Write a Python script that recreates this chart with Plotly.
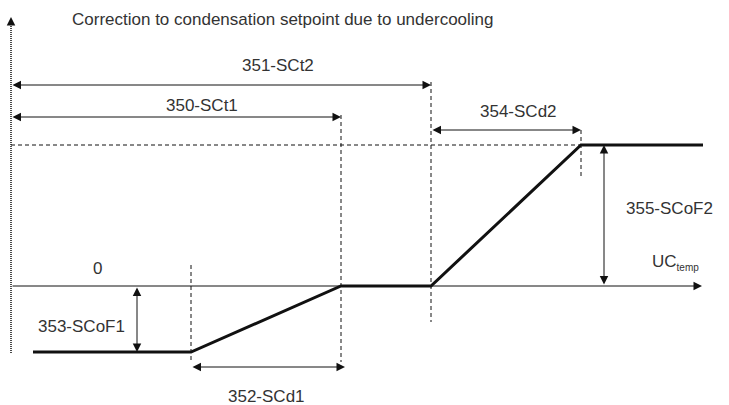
import plotly.graph_objects as go

# parameters (x: undercooling temp, y: setpoint correction)
SCT1 = 33.0
SCT2 = 42.0
SCD1 = 15.0
SCD2 = 15.0
SCOF1 = -6.6
SCOF2 = 14.1

curve_x = [2.2, SCT1 - SCD1, SCT1, SCT2, SCT2 + SCD2, 69.2]
curve_y = [SCOF1, SCOF1, 0.0, 0.0, SCOF2, SCOF2]

X_END = 69.1
Y_TOP = 26.9
Y_BOTTOM = -6.7

TEXT_COLOR = '#333333'
LINE_COLOR = '#111111'
FONT = dict(family='Arial, Liberation Sans, sans-serif', size=17, color=TEXT_COLOR)

fig = go.Figure()

# dashed guide lines
guides = [
    ([0, SCT2 + SCD2], [SCOF2, SCOF2]),
    ([SCT1 - SCD1, SCT1 - SCD1], [2.1, -7.7]),
    ([SCT1, SCT1], [17.1, -7.6]),
    ([SCT2, SCT2], [20.4, -3.6]),
    ([SCT2 + SCD2, SCT2 + SCD2], [15.6, 10.8]),
]
for gx, gy in guides:
    fig.add_trace(go.Scatter(x=gx, y=gy, mode='lines',
                             line=dict(color=LINE_COLOR, width=1, dash='4px,3px'),
                             hoverinfo='skip', showlegend=False))

# dotted y axis
fig.add_trace(go.Scatter(x=[0, 0], y=[Y_BOTTOM, Y_TOP - 0.8], mode='lines',
                         line=dict(color=LINE_COLOR, width=1.5, dash='1px,1px'),
                         hoverinfo='skip', showlegend=False))

# correction curve
fig.add_trace(go.Scatter(x=curve_x, y=curve_y, mode='lines',
                         line=dict(color=LINE_COLOR, width=3),
                         hoverinfo='skip', showlegend=False))


def arrow(x0, y0, x1, y1, both=True):
    fig.add_annotation(x=x1, y=y1, ax=x0, ay=y0, xref='x', yref='y',
                       axref='x', ayref='y', text='', showarrow=True,
                       arrowhead=2, arrowsize=1.7, arrowwidth=1,
                       startarrowhead=2, startarrowsize=1.7,
                       arrowside='end+start' if both else 'end',
                       arrowcolor=LINE_COLOR)


# axes arrows
arrow(0, 0, X_END, 0, both=False)
arrow(0, Y_TOP - 0.9, 0, Y_TOP, both=False)

# dimension arrows
arrow(0, 20.1, SCT2, 20.1)
arrow(0, 16.9, SCT1, 16.9)
arrow(SCT2, 15.6, SCT2 + SCD2, 15.6)
arrow(SCT1 - SCD1, -8.1, SCT1 + 0.4, -8.1)
arrow(59.3, 0, 59.3, SCOF2)
arrow(12.6, 0, 12.6, SCOF1)

labels = [
    ('351-SCt2', 26.7, 22.1, 'center'),
    ('350-SCt1', 19.1, 18.1, 'center'),
    ('354-SCd2', 50.7, 17.5, 'center'),
    ('355-SCoF2', 65.8, 7.8, 'center'),
    ('0', 8.6, 1.8, 'center'),
    ('UC<sub><span style="font-size:10px">temp</span></sub>', 63.9, 2.4, 'left'),
    ('353-SCoF1', 7.0, -4.0, 'center'),
    ('352-SCd1', 25.5, -11.0, 'center'),
    ('Correction to condensation setpoint due to undercooling', 5.9, 26.7, 'left'),
]
for txt, lx, ly, anchor in labels:
    fig.add_annotation(x=lx, y=ly, xref='x', yref='y', text=txt, showarrow=False,
                       xanchor=anchor, yanchor='middle', font=FONT)

fig.update_layout(
    width=729,
    height=405,
    margin=dict(l=0, r=0, t=0, b=0),
    plot_bgcolor='white',
    paper_bgcolor='white',
    xaxis=dict(range=[-1.1, 71.8], visible=False, fixedrange=True),
    yaxis=dict(range=[-11.9, 28.6], visible=False, fixedrange=True),
    showlegend=False,
)

# drop the default page margin so the figure sits at the window's corner
fig.write_html("out.html", config={'displayModeBar': False},
               post_script="document.body.style.margin='0';")
